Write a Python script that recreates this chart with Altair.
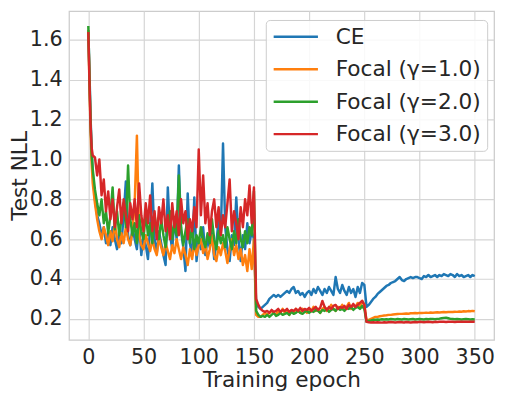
import altair as alt
import pandas as pd

# ---------------- data ----------------
EPOCHS_A = [0, 1, 2, 3, 4] + list(range(6, 151, 2))      # 78 points
EPOCHS_B = list(range(152, 251, 2))                       # 50 points
EPOCHS_C = list(range(252, 351, 2))                       # 50 points

CE_A = [1.65, 1.45, 1.22, 1.05, 0.93, 0.80, 0.72, 0.68, 0.62, 0.66,
        0.58, 0.63, 0.57, 0.66, 0.60, 0.55, 0.64, 0.58, 0.72, 0.89,
        0.62, 0.57, 0.66, 0.60, 0.55, 0.68, 0.52, 0.62, 0.57, 0.50,
        0.66, 0.88, 0.60, 0.53, 0.64, 0.58, 0.52, 0.47, 0.86, 0.62,
        0.55, 0.70, 0.60, 0.97, 0.64, 0.56, 0.44, 0.83, 0.58, 0.52,
        0.81, 0.49, 0.60, 0.55, 0.66, 0.52, 0.60, 0.56, 0.63, 0.50,
        0.58, 0.70, 0.62, 1.08, 0.66, 0.55, 0.49, 0.62, 0.57, 0.81,
        0.60, 0.49, 0.62, 0.55, 0.68, 0.58, 0.64, 0.60]
CE_B = [0.27, 0.26, 0.25, 0.26, 0.27, 0.28, 0.30, 0.31, 0.32, 0.31,
        0.32, 0.31, 0.32, 0.33, 0.34, 0.33, 0.35, 0.36, 0.33, 0.34,
        0.32, 0.33, 0.31, 0.33, 0.34, 0.32, 0.35, 0.33, 0.36, 0.34,
        0.32, 0.35, 0.33, 0.36, 0.34, 0.32, 0.41, 0.35, 0.33, 0.37,
        0.34, 0.32, 0.36, 0.33, 0.35, 0.31, 0.36, 0.33, 0.38, 0.37]
CE_C = [0.26, 0.27, 0.285, 0.30, 0.31, 0.325, 0.335, 0.345, 0.355, 0.365,
        0.37, 0.38, 0.385, 0.39, 0.40, 0.41, 0.395, 0.39, 0.40, 0.405,
        0.41, 0.405, 0.41, 0.41, 0.405, 0.40, 0.415, 0.41, 0.42, 0.41,
        0.415, 0.42, 0.41, 0.42, 0.415, 0.425, 0.42, 0.415, 0.425, 0.42,
        0.41, 0.425, 0.415, 0.42, 0.41, 0.415, 0.42, 0.41, 0.42, 0.415]

F1_A = [1.65, 1.38, 1.15, 0.98, 0.88, 0.78, 0.70, 0.64, 0.60, 0.66,
        0.62, 0.57, 0.64, 0.59, 0.68, 0.60, 0.56, 0.63, 0.58, 0.66,
        0.60, 0.57, 0.64, 0.78, 1.12, 0.62, 0.57, 0.55, 0.62, 0.58,
        0.54, 0.60, 0.55, 0.52, 0.61, 0.56, 0.52, 0.58, 0.54, 0.50,
        0.57, 0.53, 0.60, 0.55, 0.50, 0.56, 0.52, 0.47, 0.55, 0.50,
        0.58, 0.52, 0.57, 0.60, 0.53, 0.58, 0.50, 0.55, 0.62, 0.52,
        0.49, 0.56, 0.52, 0.58, 0.54, 0.48, 0.55, 0.60, 0.52, 0.57,
        0.50, 0.55, 0.47, 0.52, 0.44, 0.55, 0.45, 0.60]
F1_B = [0.22, 0.21, 0.21, 0.22, 0.23, 0.22, 0.23, 0.24, 0.23, 0.22,
        0.24, 0.23, 0.25, 0.23, 0.24, 0.22, 0.24, 0.23, 0.25, 0.24,
        0.23, 0.25, 0.24, 0.23, 0.25, 0.24, 0.26, 0.24, 0.25, 0.23,
        0.25, 0.26, 0.24, 0.25, 0.27, 0.25, 0.24, 0.26, 0.25, 0.27,
        0.25, 0.26, 0.28, 0.25, 0.27, 0.26, 0.28, 0.26, 0.29, 0.27]
F1_C = [0.19, 0.195, 0.20, 0.205, 0.21, 0.21, 0.213, 0.215, 0.217, 0.218,
        0.22, 0.22, 0.222, 0.223, 0.224, 0.225, 0.225, 0.226, 0.227, 0.226,
        0.228, 0.228, 0.229, 0.228, 0.23, 0.229, 0.23, 0.231, 0.23, 0.232,
        0.231, 0.232, 0.233, 0.232, 0.233, 0.234, 0.233, 0.234, 0.235, 0.234,
        0.236, 0.235, 0.237, 0.236, 0.238, 0.237, 0.239, 0.238, 0.24, 0.238]

F2_A = [1.67, 1.42, 1.20, 1.03, 0.95, 0.85, 0.78, 0.72, 0.80, 0.68,
        0.74, 0.63, 0.72, 0.86, 0.65, 0.74, 0.62, 0.70, 0.78, 0.66,
        0.97, 0.70, 0.62, 0.68, 0.58, 0.72, 0.64, 0.60, 0.74, 0.62,
        0.68, 0.58, 0.72, 0.64, 0.60, 0.70, 0.62, 0.56, 0.66, 0.74,
        0.60, 0.68, 0.62, 0.92, 0.66, 0.57, 0.64, 0.70, 0.58, 0.66,
        0.55, 0.62, 0.58, 0.66, 0.60, 0.56, 0.63, 0.58, 0.70, 0.60,
        0.55, 0.64, 0.58, 0.62, 0.56, 0.66, 0.60, 0.55, 0.64, 0.58,
        0.70, 0.60, 0.56, 0.64, 0.58, 0.66, 0.62, 0.84]
F2_B = [0.24, 0.22, 0.21, 0.215, 0.21, 0.22, 0.21, 0.22, 0.23, 0.215,
        0.22, 0.23, 0.22, 0.225, 0.23, 0.22, 0.235, 0.225, 0.23, 0.24,
        0.23, 0.225, 0.235, 0.24, 0.23, 0.24, 0.235, 0.245, 0.24, 0.23,
        0.245, 0.24, 0.25, 0.235, 0.245, 0.25, 0.24, 0.255, 0.245, 0.25,
        0.24, 0.255, 0.25, 0.26, 0.245, 0.255, 0.26, 0.25, 0.265, 0.25]
F2_C = [0.185, 0.19, 0.192, 0.195, 0.196, 0.197, 0.196, 0.198, 0.197, 0.198,
        0.197, 0.199, 0.198, 0.197, 0.199, 0.198, 0.197, 0.199, 0.198, 0.197,
        0.198, 0.199, 0.197, 0.198, 0.199, 0.198, 0.197, 0.199, 0.198, 0.20,
        0.199, 0.198, 0.20, 0.201, 0.203, 0.205, 0.206, 0.203, 0.20, 0.199,
        0.198, 0.199, 0.198, 0.197, 0.198, 0.199, 0.198, 0.197, 0.198, 0.197]

F3_A = [1.64, 1.40, 1.18, 1.06, 1.02, 1.01, 0.92, 1.00, 0.82, 0.90,
        0.74, 0.84, 0.70, 0.80, 0.66, 0.76, 0.85, 0.68, 0.80, 0.72,
        0.64, 0.78, 0.70, 0.80, 0.66, 0.88, 0.72, 0.64, 0.78, 0.68,
        0.82, 0.64, 0.74, 0.60, 0.76, 0.68, 0.80, 0.64, 0.72, 0.60,
        0.78, 0.66, 0.74, 0.62, 0.80, 0.68, 0.74, 0.60, 0.70, 0.64,
        0.76, 0.66, 1.05, 0.72, 0.92, 0.68, 0.78, 0.62, 0.74, 0.80,
        0.66, 0.76, 0.62, 0.72, 0.66, 0.78, 0.90, 0.64, 0.74, 0.68,
        0.60, 0.76, 0.66, 0.80, 0.72, 0.87, 0.68, 0.86]
F3_B = [0.30, 0.27, 0.25, 0.24, 0.235, 0.24, 0.23, 0.245, 0.235, 0.24,
        0.25, 0.235, 0.245, 0.24, 0.25, 0.235, 0.245, 0.24, 0.25, 0.24,
        0.255, 0.24, 0.25, 0.245, 0.255, 0.24, 0.25, 0.26, 0.245, 0.255,
        0.29, 0.26, 0.245, 0.26, 0.25, 0.265, 0.27, 0.25, 0.26, 0.255,
        0.265, 0.25, 0.27, 0.26, 0.275, 0.26, 0.27, 0.28, 0.29, 0.27]
F3_C = [0.185, 0.183, 0.182, 0.183, 0.182, 0.183, 0.182, 0.181, 0.183, 0.182,
        0.183, 0.184, 0.183, 0.182, 0.183, 0.184, 0.183, 0.182, 0.184, 0.183,
        0.182, 0.183, 0.184, 0.183, 0.185, 0.184, 0.183, 0.184, 0.185, 0.184,
        0.183, 0.185, 0.184, 0.185, 0.186, 0.185, 0.184, 0.185, 0.186, 0.185,
        0.184, 0.185, 0.186, 0.185, 0.186, 0.185, 0.186, 0.185, 0.186, 0.185]

SERIES = ["CE", "Focal (γ=1.0)", "Focal (γ=2.0)", "Focal (γ=3.0)"]
COLORS = ["#1f77b4", "#ff7f0e", "#2ca02c", "#d62728"]
X_TICKS = [0, 50, 100, 150, 200, 250, 300, 350]
Y_TICKS = [0.2, 0.4, 0.6, 0.8, 1.0, 1.2, 1.4, 1.6]

# ---------------- table ----------------
epochs = EPOCHS_A + EPOCHS_B + EPOCHS_C
values = [CE_A + CE_B + CE_C, F1_A + F1_B + F1_C,
          F2_A + F2_B + F2_C, F3_A + F3_B + F3_C]
rows = []
for name, vals in zip(SERIES, values):
    for e, v in zip(epochs, vals):
        rows.append({"epoch": e, "nll": v, "series": name})
df = pd.DataFrame(rows)

FONT = "DejaVu Sans"
TXT = "#262626"
PLOT_H = 334

x_enc = alt.X("epoch:Q", title="Training epoch",
              scale=alt.Scale(domain=[-17.5, 367.5], nice=False, zero=False),
              axis=alt.Axis(values=X_TICKS, format="d", labelPadding=7, titlePadding=3))
y_enc = alt.Y("nll:Q", title="Test NLL",
              scale=alt.Scale(domain=[0.095, 1.745], nice=False, zero=False),
              axis=alt.Axis(values=Y_TICKS, format=".1f", labelPadding=7,
                            titleX=-43, titleY=PLOT_H / 2, titleAngle=270,
                            titleBaseline="alphabetic", titleAlign="center"))
color_enc = alt.Color(
    "series:N",
    scale=alt.Scale(domain=SERIES, range=COLORS),
    legend=alt.Legend(
        title=None, orient="none", legendX=200, legendY=9,
        symbolType="M-1,0H4", symbolSize=324, symbolStrokeWidth=2.5,
        symbolFillColor="transparent",
        labelFontSize=22, labelFont=FONT, labelColor=TXT, labelOffset=43,
        rowPadding=11, padding=6,
        fillColor="rgba(255,255,255,0.85)", strokeColor="#cccccc",
        cornerRadius=4,
    ),
)

layers = []
for name in SERIES:
    layers.append(
        alt.Chart(df)
        .transform_filter(alt.datum.series == name)
        .mark_line(strokeWidth=2.5, strokeJoin="round", clip=True)
        .encode(x=x_enc, y=y_enc, color=color_enc, order="epoch:Q")
    )

chart = (
    alt.layer(*layers)
    .properties(width=432, height=PLOT_H,
                autosize=alt.AutoSizeParams(type="none"),
                padding={"left": 62, "top": 0, "right": 4, "bottom": 56})
    .configure_view(stroke="#cccccc", strokeWidth=1.25)
    .configure_axis(
        labelFont=FONT, titleFont=FONT, labelFontSize=21, titleFontSize=22,
        labelColor=TXT, titleColor=TXT, titleFontWeight="normal",
        grid=True, gridColor="#d5d5d5", gridWidth=1.2,
        domain=False, ticks=False,
    )
)

chart.save("out.html", embed_options={"renderer": "svg", "actions": False})
